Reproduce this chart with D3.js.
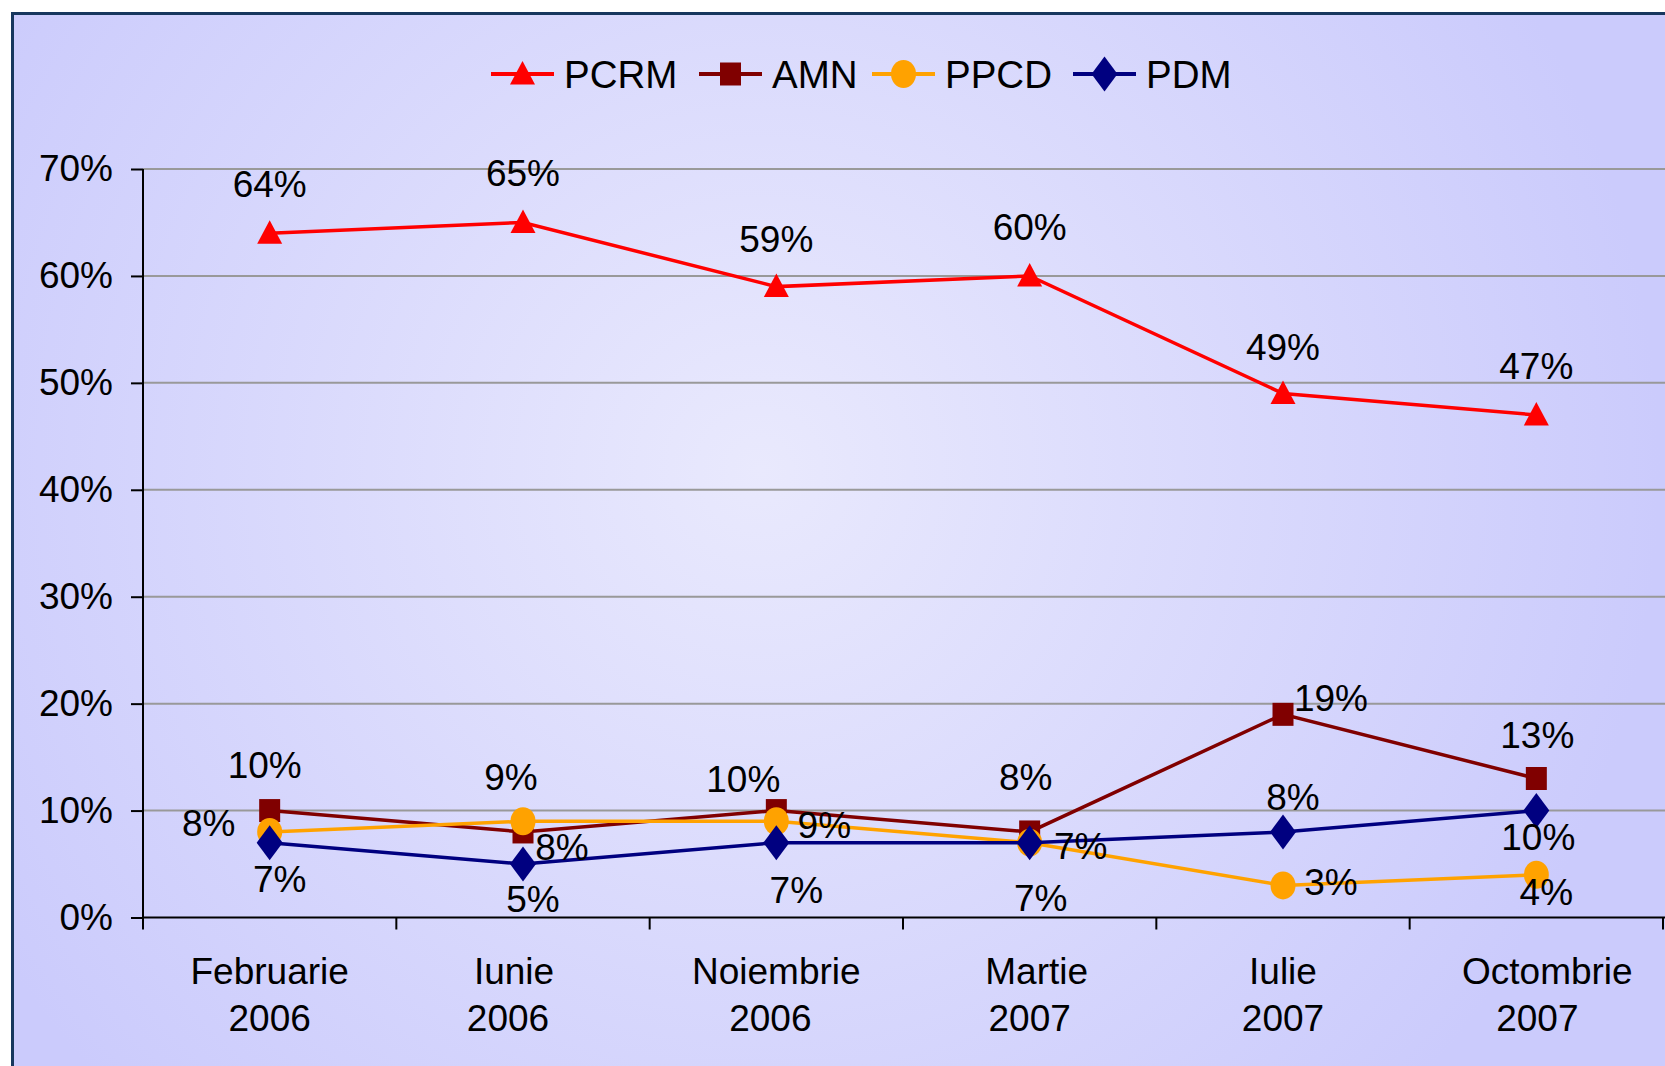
<!DOCTYPE html>
<html>
<head>
<meta charset="utf-8">
<script src="https://cdn.jsdelivr.net/npm/d3@7"></script>
<style>
  body { margin: 0; background: #fff; }
  svg { display: block; font-family: Arial, "Liberation Sans", sans-serif; }
</style>
</head>
<body>
<div id="chart"></div>
<script>
const width = 1665;
const height = 1066;

// data
const categories = ["Februarie 2006", "Iunie 2006", "Noiembrie 2006", "Martie 2007", "Iulie 2007", "Octombrie 2007"];
const pcrm = [64, 65, 59, 60, 49, 47];
const amn = [10, 8, 10, 8, 19, 13];
const ppcd = [8, 9, 9, 7, 3, 4];
const pdm = [7, 5, 7, 7, 8, 10];
const yTicks = [0, 10, 20, 30, 40, 50, 60, 70];

// small horizontal nudges of the two-line category labels (line1, line2)
const xLabelShift = [[0, 0], [-9, -15], [0, -6], [7, 0], [0, 0], [11, 1]];

// series styling + where each value label sits relative to its point
const series = [
  { name: "PCRM", values: pcrm, color: "#FF0000", marker: "triangle",
    offsets: [[0, -49], [0, -50], [0, -48], [0, -49], [0, -47], [0, -49]] },
  { name: "AMN", values: amn, color: "#800000", marker: "square",
    offsets: [[-5, -46], [39, 15], [-33, -32], [-4, -55], [48, -17], [1, -44]] },
  { name: "PPCD", values: ppcd, color: "#FFA200", marker: "circle",
    offsets: [[-61, -9], [-12, -45], [48, 3], [51, 3], [48, -4], [10, 17]] },
  { name: "PDM", values: pdm, color: "#000080", marker: "diamond",
    offsets: [[10, 36], [10, 35], [20, 47], [11, 55], [10, -35], [2, 26]] }
];

const svg = d3.select("#chart")
  .append("svg")
  .attr("width", width)
  .attr("height", height);

const defs = svg.append("defs");
const grad = defs.append("radialGradient")
  .attr("id", "bg")
  .attr("gradientUnits", "userSpaceOnUse")
  .attr("cx", 760).attr("cy", 470).attr("r", 900);
grad.append("stop").attr("offset", "0%").attr("stop-color", "#E9E9FD");
grad.append("stop").attr("offset", "100%").attr("stop-color", "#CBCBFC");

// frame
svg.append("rect")
  .attr("x", 12.5).attr("y", 13.5)
  .attr("width", width + 20).attr("height", height + 20)
  .attr("fill", "url(#bg)")
  .attr("stroke", "#17375E")
  .attr("stroke-width", 3);

const x = d3.scaleBand().domain(categories).range([143, 1663]);
const y = d3.scaleLinear().domain([0, 70]).range([917.5, 169]);
const cx = d => x(d) + x.bandwidth() / 2;

// gridlines
svg.append("g")
  .selectAll("line")
  .data(yTicks.filter(d => d > 0))
  .enter()
  .append("line")
  .attr("x1", 143).attr("x2", width)
  .attr("y1", d => y(d)).attr("y2", d => y(d))
  .attr("stroke", "#999999")
  .attr("stroke-width", 2);

// y axis
const yAxis = svg.append("g")
  .attr("transform", "translate(143,0)")
  .call(d3.axisLeft(y).tickValues(yTicks).tickFormat(d => d + "%").tickSize(12).tickPadding(18));
yAxis.select(".domain").remove();
yAxis.selectAll("line").attr("stroke", "#000").attr("stroke-width", 2);
yAxis.selectAll("text")
  .attr("font-size", 37)
  .attr("fill", "#000")
  .attr("font-family", "Arial, 'Liberation Sans', sans-serif");

svg.append("line")
  .attr("x1", 143).attr("x2", 143)
  .attr("y1", y(70)).attr("y2", y(0) + 12)
  .attr("stroke", "#000").attr("stroke-width", 2);

// x axis
svg.append("line")
  .attr("x1", 143).attr("x2", width)
  .attr("y1", y(0)).attr("y2", y(0))
  .attr("stroke", "#000").attr("stroke-width", 2);

const boundaries = categories.map(d => x(d)).concat([x.range()[1]]);
svg.append("g")
  .selectAll("line")
  .data(boundaries.slice(1))
  .enter()
  .append("line")
  .attr("x1", d => d).attr("x2", d => d)
  .attr("y1", y(0)).attr("y2", y(0) + 12)
  .attr("stroke", "#000").attr("stroke-width", 2);

const xLabels = svg.append("g")
  .selectAll("text")
  .data(categories)
  .enter()
  .append("text")
  .attr("text-anchor", "middle")
  .attr("font-size", 37)
  .attr("fill", "#000");
xLabels.selectAll("tspan")
  .data((d, j) => d.split(" ").map((w, i) => ({ w, c: d, s: xLabelShift[j][i] })))
  .enter()
  .append("tspan")
  .attr("x", d => cx(d.c) + d.s)
  .attr("y", (d, i) => 984 + i * 47)
  .text(d => d.w);

// marker shapes
function markerPath(type) {
  if (type === "triangle") return "M0,-13L12.5,10.5L-12.5,10.5Z";
  if (type === "square") return "M-10.5,-11.5L10.5,-11.5L10.5,11.5L-10.5,11.5Z";
  if (type === "circle") return "M-12.5,0A12.5,14 0 1,0 12.5,0A12.5,14 0 1,0 -12.5,0Z";
  return "M0,-17.5L13,0L0,17.5L-13,0Z";
}

const line = d3.line()
  .x(d => cx(d.c))
  .y(d => y(d.v));

const groups = svg.append("g")
  .selectAll("g")
  .data(series)
  .enter()
  .append("g");

groups.append("path")
  .attr("d", s => line(s.values.map((v, i) => ({ v, c: categories[i] }))))
  .attr("fill", "none")
  .attr("stroke", s => s.color)
  .attr("stroke-width", 3.5);

groups.selectAll(".mk")
  .data(s => s.values.map((v, i) => ({ v, c: categories[i], s })))
  .enter()
  .append("path")
  .attr("class", "mk")
  .attr("transform", d => `translate(${cx(d.c)},${y(d.v)})`)
  .attr("d", d => markerPath(d.s.marker))
  .attr("fill", d => d.s.color);

// value labels
const labels = svg.append("g");
series.forEach(s => {
  labels.selectAll(null)
    .data(s.values.map((v, i) => ({ v, c: categories[i], o: s.offsets[i] })))
    .enter()
    .append("text")
    .attr("x", d => cx(d.c) + d.o[0])
    .attr("y", d => y(d.v) + d.o[1])
    .attr("dy", "0.36em")
    .attr("text-anchor", "middle")
    .attr("font-size", 37)
    .attr("fill", "#000")
    .text(d => d.v + "%");
});

// legend
const legendX = [491, 699, 872, 1073];
const legend = svg.append("g")
  .selectAll("g")
  .data(series)
  .enter()
  .append("g")
  .attr("transform", (d, i) => `translate(${legendX[i]},74)`);

legend.append("line")
  .attr("x1", 0).attr("x2", 63)
  .attr("stroke", d => d.color)
  .attr("stroke-width", 4);

legend.append("path")
  .attr("transform", "translate(31.5,0)")
  .attr("d", d => markerPath(d.marker))
  .attr("fill", d => d.color);

legend.append("text")
  .attr("x", 73)
  .attr("dy", "0.36em")
  .attr("font-size", 38.5)
  .attr("fill", "#000")
  .text(d => d.name);
</script>
</body>
</html>
